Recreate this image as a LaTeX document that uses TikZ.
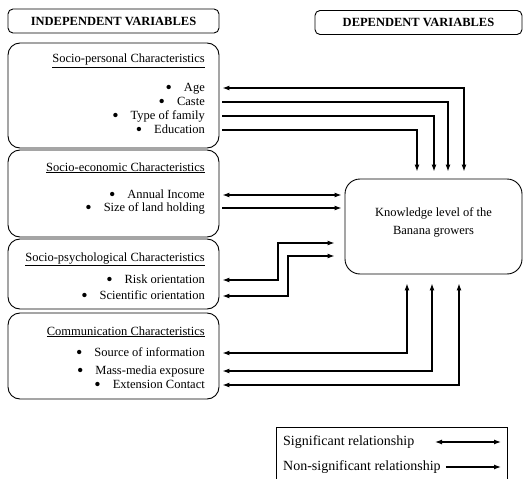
\documentclass[tikz,border=0pt]{standalone}
\usepackage{fontspec}
\setmainfont{Liberation Serif}
\usetikzlibrary{arrows.meta}

\newcommand{\bul}{\raisebox{-2.4pt}{\scalebox{1.45}{\textbullet}}\hspace{12pt}}

\tikzset{
  box/.style={draw, line width=0.9pt, rounded corners=12pt, minimum width=211pt},
  head/.style={draw, line width=0.9pt, rounded corners=5pt, minimum height=24pt, font=\fontsize{12.5}{15}\selectfont\bfseries},
  captext/.style={anchor=base east, inner sep=0pt},
  item/.style={anchor=east, inner sep=0pt, text height=9pt, text depth=3pt},
  sig/.style={line width=1.2pt, {Latex[length=7pt,width=5pt]}-{Latex[length=7pt,width=5pt]}},
  nsig/.style={line width=1.2pt, -{Latex[length=7pt,width=5pt]}},
  legtext/.style={anchor=west, inner sep=0pt, font=\fontsize{14}{16}\selectfont, text height=9.5pt, text depth=3pt}
}

\begin{document}
\begin{tikzpicture}[x=1pt,y=-1pt,font=\fontsize{12.5}{15}\selectfont]

\useasboundingbox (0,0) rectangle (523,479);

\node[head, minimum width=211pt] (ind) at (113.5,21) {INDEPENDENT VARIABLES};
\node[head, minimum width=207pt] (dep) at (418.5,22.5) {DEPENDENT VARIABLES};

\node[box, minimum height=105pt] (sp) at (113.5,95.5) {};
\node[box, minimum height=87pt] (se) at (113.5,193.5) {};
\node[box, minimum height=70pt] (ps) at (113.5,274) {};
\node[box, minimum height=86pt] (cm) at (113.5,356) {};

\node[box, minimum width=177pt, minimum height=95pt, rounded corners=15pt] (know) at (433.5,226.5) {};
\node[align=center] (kt) at (433.5,222) {Knowledge level of the\\[3pt]Banana growers};

\node[captext] (spc) at (205,63) {\underline{Socio-personal Characteristics}};
\node[captext] (sec) at (205,171) {\underline{Socio-economic Characteristics}};
\node[captext] (psc) at (205,261) {\underline{Socio-psychological Characteristics}};
\node[captext] (cmc) at (205,335) {\underline{Communication Characteristics}};

\foreach \n/\y/\t in {age/88/Age, caste/102/Caste, fam/116/Type of family, edu/130/Education,
                      inc/195/Annual Income, land/208/Size of land holding,
                      risk/280/Risk orientation, sci/296/Scientific orientation,
                      src/353/Source of information, mass/371/Mass-media exposure, ext/385/Extension Contact}
  \node[item] (\n) at (205,\y) {\bul\t};

\coordinate (tAge) at (464,0);
\coordinate (tCas) at (448,0);
\coordinate (tFam) at (434,0);
\coordinate (tEdu) at (417,0);
\coordinate (bSrc) at (407,0);
\coordinate (bMas) at (432,0);
\coordinate (bExt) at (459,0);
\coordinate (jRisk) at (278,243);
\coordinate (jSci) at (288,256);

\foreach \n/\c/\s in {age/tAge/sig, caste/tCas/nsig, fam/tFam/nsig, edu/tEdu/nsig}
  \draw[\s, shorten <=3pt, shorten >=7pt] (\n.east -| sp.east) -| (\c |- know.north);

\draw[sig, shorten <=3pt, shorten >=3pt] (inc.east -| se.east) -- (inc.east -| know.west);
\draw[nsig, shorten <=3pt, shorten >=3pt] (land.east -| se.east) -- (land.east -| know.west);

\draw[sig, shorten <=3pt, shorten >=10pt] (risk.east -| ps.east) -| (jRisk) -- (jRisk -| know.west);
\draw[sig, shorten <=3pt, shorten >=10pt] (sci.east -| ps.east) -| (jSci) -- (jSci -| know.west);

\foreach \n/\c in {src/bSrc, mass/bMas, ext/bExt}
  \draw[sig, shorten <=3pt, shorten >=9pt] (\n.east -| cm.east) -| (\c |- know.south);

\node[draw, line width=0.8pt, anchor=north west, minimum width=231pt, minimum height=58pt] (leg) at (276,427) {};
\node[legtext] (ls) at (283,442) {Significant relationship};
\node[legtext] (ln) at (283,467) {Non-significant relationship};
\coordinate (ls1) at (435,442);
\coordinate (ls2) at (501,442);
\coordinate (ln2) at (501,467);
\draw[sig] (ls1) -- (ls2);
\draw[nsig, shorten <=5pt] (ln.east) -- (ln2);

\end{tikzpicture}
\end{document}
